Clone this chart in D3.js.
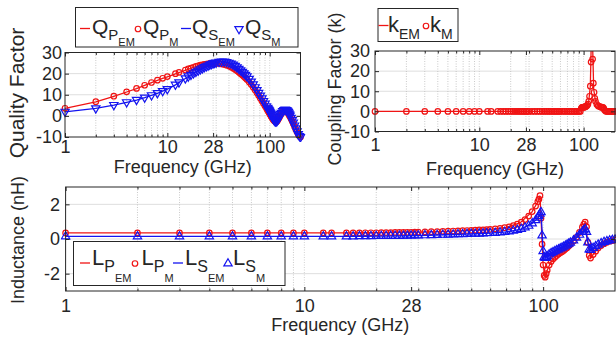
<!DOCTYPE html>
<html>
<head>
<meta charset="utf-8">
<script src="https://cdn.jsdelivr.net/npm/d3@7"></script>
<style>
body { margin: 0; background: #fff; }
svg text { font-family: "Liberation Sans", Arial, Helvetica, sans-serif; fill: #262626; }
</style>
</head>
<body>
<svg id="chart" width="616" height="337"></svg>
<script>
// x ticks shared by all three panels
var majorTicks = [1, 10, 28, 100];
var minorTicks = [2, 3, 4, 5, 6, 7, 8, 9, 20, 30, 40, 50, 60, 70, 80, 90];

// simulated (M) sweep frequencies, GHz
var fM = [1, 2, 3, 4, 5, 6, 7, 8, 9, 10, 12, 13,
  15, 16, 17, 18, 19, 20, 21, 22, 23, 24, 25, 26, 27, 28, 29, 30,
  32, 34, 36, 38, 40, 42, 44, 46, 48, 50, 52, 54, 56, 58, 60,
  63, 66, 69, 72, 75, 78, 81, 84, 87, 90, 93,
  95, 96, 97, 98, 99, 100, 101, 102, 103, 104, 106, 108, 110,
  112, 114, 116, 118, 120, 122, 124, 126, 128, 130,
  134, 138, 142, 146, 148, 150, 152, 154, 156, 158, 162, 166, 170, 175, 180, 185, 190, 195, 200];

// EM line frequencies, GHz
var fEM = [1, 2, 3, 4, 5, 6, 7, 8, 9, 10, 12, 13,
  15, 18, 21, 25, 30, 36, 42, 50, 60, 70, 80, 90,
  95, 97, 98, 100, 102, 104, 108, 112, 116, 120, 125, 130,
  138, 146, 150, 154, 158, 166, 175, 185, 200];

// quality factor
var qPM = [3.6, 6.7, 9.3, 11.4, 13.0, 14.5, 15.8, 16.9, 17.8, 18.6, 20.0, 20.6,
  21.7, 22.2, 22.6, 23.0, 23.4, 23.7, 24.0, 24.2, 24.4, 24.5, 24.6, 24.7, 24.8, 24.9, 24.9, 24.9,
  24.8, 24.6, 24.3, 24.0, 23.6, 23.1, 22.6, 22.0, 21.4, 20.7, 20.0, 19.3, 18.6, 17.9, 17.2,
  16.0, 14.8, 13.5, 12.2, 10.9, 9.6, 8.3, 7.1, 5.9, 4.7, 3.6,
  2.9, 2.5, 2.2, 1.8, 1.5, 1.1, 0.8, 0.4, 0.0, -0.4, -1.1, -1.7, -2.2,
  -2.6, -2.8, -2.8, -2.5, -2.0, -1.4, -0.8, -0.1, 0.5, 1.1,
  1.9, 2.4, 2.5, 2.2, 1.9, 1.6, 1.2, 0.7, 0.2, -0.4, -1.5, -2.6, -3.7, -5.1, -6.4, -7.6, -8.8, -9.5, -10.0];
var qSM = [2.0, 3.6, 5.2, 6.5, 7.6, 8.7, 9.8, 10.8, 11.8, 12.7, 14.8, 15.9,
  17.8, 18.7, 19.5, 20.2, 20.9, 21.5, 22.1, 22.6, 23.1, 23.5, 23.9, 24.3, 24.6, 24.9, 25.1, 25.3,
  25.6, 25.7, 25.7, 25.5, 25.2, 24.8, 24.3, 23.7, 23.0, 22.3, 21.6, 20.9, 20.2, 19.5, 18.8,
  17.6, 16.3, 15.0, 13.6, 12.2, 10.9, 9.6, 8.3, 7.0, 5.8, 4.6,
  3.9, 3.5, 3.1, 2.8, 2.4, 2.0, 1.6, 1.2, 0.8, 0.4, -0.4, -1.2, -1.8,
  -2.3, -2.6, -2.6, -2.3, -1.8, -1.2, -0.5, 0.2, 0.9, 1.5,
  2.3, 2.8, 3.0, 2.8, 2.5, 2.2, 1.8, 1.3, 0.8, 0.2, -0.9, -2.0, -3.1, -4.5, -5.9, -7.3, -8.6, -9.5, -10.0];
var qPEM = [3.5, 6.6, 9.2, 11.3, 12.9, 14.4, 15.7, 16.8, 17.7, 18.5, 19.9, 20.5,
  21.6, 23.0, 24.0, 24.6, 24.9, 24.3, 23.1, 20.7, 17.2, 13.1, 8.7, 4.7,
  2.9, 2.2, 1.8, 1.1, 0.4, -0.4, -1.7, -2.6, -2.8, -2.0, -0.45, 1.1,
  2.4, 2.2, 1.6, 0.7, -0.4, -2.6, -5.1, -7.6, -10.0];
var qSEM = [1.9, 3.5, 5.1, 6.4, 7.5, 8.6, 9.7, 10.7, 11.7, 12.6, 14.7, 15.8,
  17.7, 20.2, 22.1, 23.9, 25.3, 25.7, 24.8, 22.3, 18.8, 14.5, 10.0, 5.8,
  3.9, 3.1, 2.8, 2.0, 1.2, 0.4, -1.2, -2.3, -2.6, -1.8, -0.2, 1.5,
  2.8, 2.8, 2.2, 1.3, 0.2, -2.0, -4.5, -7.3, -10.0];

// coupling factor
var kM = [0, 0, 0, 0, 0, 0, 0, 0, 0, 0, 0, 0,
  0, 0, 0, 0, 0, 0, 0, 0, 0, 0, 0, 0, 0, 0, 0, 0,
  0, 0, 0, 0, 0, 0, 0, 0, 0, 0, 0, 0, 0, 0, 0,
  0, 0, 0, 0, 0, 0, 0, 0, 0, 0, 0,
  1.5, 1.8, 2.0, 2.0, 2.0, 2.1, 2.1, 2.2, 2.2, 2.3, 2.5, 2.9, 3.6,
  5.0, 7.5, 12.5, 24.5, 48.0, 26.0, 14.0, 9.5, 6.5, 5.0,
  3.4, 2.7, 2.4, 2.2, 2.1, 2.0, 2.0, 1.9, 1.5, 0.8, 0.2, 0, 0, 0, 0, 0, 0, 0, 0];
var kEM = [0, 0, 0, 0, 0, 0, 0, 0, 0, 0, 0, 0,
  0, 0, 0, 0, 0, 0, 0, 0, 0, 0, 0, 0,
  1.5, 2.0, 2.0, 2.1, 2.2, 2.3, 2.9, 5.0, 12.5, 48.0, 11.0, 5.0,
  2.7, 2.2, 2.0, 1.9, 0.8, 0, 0, 0, 0];

// inductance, nH
var lPM = [0.35, 0.35, 0.35, 0.35, 0.35, 0.35, 0.35, 0.35, 0.35, 0.35, 0.35, 0.35,
  0.35, 0.35, 0.35, 0.36, 0.36, 0.36, 0.37, 0.37, 0.37, 0.38, 0.38, 0.38, 0.39, 0.39, 0.40, 0.40,
  0.41, 0.42, 0.43, 0.44, 0.45, 0.46, 0.47, 0.48, 0.49, 0.50, 0.51, 0.52, 0.53, 0.545, 0.56,
  0.58, 0.61, 0.65, 0.70, 0.77, 0.86, 0.97, 1.12, 1.32, 1.58, 1.90,
  2.15, 2.3, 2.5, 1.2, -0.3, -1.5, -2.1, -2.2, -2.0, -1.8, -1.5, -1.3, -1.15,
  -1.05, -0.95, -0.87, -0.8, -0.73, -0.66, -0.58, -0.5, -0.41, -0.32,
  -0.12, 0.1, 0.38, 0.68, 0.85, 0.97, 0.7, -0.2, -0.95, -1.1, -0.9, -0.7, -0.52, -0.38, -0.27, -0.19, -0.13, -0.09, -0.06];
var lSM = [0.15, 0.15, 0.15, 0.15, 0.15, 0.15, 0.15, 0.15, 0.15, 0.15, 0.15, 0.15,
  0.15, 0.15, 0.16, 0.16, 0.16, 0.17, 0.17, 0.17, 0.18, 0.18, 0.18, 0.19, 0.19, 0.2, 0.2, 0.2,
  0.21, 0.22, 0.23, 0.24, 0.25, 0.26, 0.27, 0.28, 0.29, 0.3, 0.3, 0.31, 0.32, 0.33, 0.34,
  0.35, 0.37, 0.4, 0.43, 0.47, 0.52, 0.58, 0.66, 0.76, 0.9, 1.08,
  1.22, 1.32, 1.45, 1.55, 0.2, -0.7, -1.05, -1.1, -1.05, -1.0, -0.9, -0.82, -0.76,
  -0.7, -0.65, -0.6, -0.55, -0.5, -0.45, -0.39, -0.33, -0.27, -0.21,
  -0.08, 0.07, 0.24, 0.42, 0.5, 0.57, 0.4, -0.2, -0.6, -0.64, -0.52, -0.42, -0.33, -0.25, -0.18, -0.13, -0.09, -0.06, -0.04];
var lPEM = [0.35, 0.35, 0.35, 0.35, 0.35, 0.35, 0.35, 0.35, 0.35, 0.35, 0.35, 0.35,
  0.35, 0.36, 0.37, 0.38, 0.40, 0.43, 0.46, 0.50, 0.56, 0.67, 0.93, 1.58,
  2.15, 2.5, 1.2, -1.5, -2.2, -1.8, -1.3, -1.05, -0.87, -0.73, -0.54, -0.32,
  0.1, 0.68, 0.97, -0.2, -1.1, -0.7, -0.38, -0.19, -0.06];
var lSEM = [0.15, 0.15, 0.15, 0.15, 0.15, 0.15, 0.15, 0.15, 0.15, 0.15, 0.15, 0.15,
  0.15, 0.16, 0.17, 0.18, 0.2, 0.23, 0.26, 0.29, 0.34, 0.41, 0.55, 0.9,
  1.22, 1.45, 1.55, -0.7, -1.1, -1.0, -0.82, -0.7, -0.6, -0.5, -0.36, -0.21,
  0.07, 0.42, 0.57, -0.2, -0.64, -0.42, -0.25, -0.13, -0.04];

var RED = "#f01414", BLUE = "#1414f0", INK = "#262626";
var svg = d3.select("#chart");

function zip(fs, vs) {
  return fs.map(function(f, i) { return { f: f, v: vs[i] }; });
}

// plain hyphen minus like the original figure
function plain(d) { return String(d); }

function drawPanel(cfg) {
  var x = d3.scaleLog().domain([1, 200]).range([cfg.left, cfg.right]);
  var y = d3.scaleLinear().domain(cfg.yDomain).range([cfg.bottom, cfg.top]);
  var g = svg.append("g");

  // grid
  var grid = g.append("g");
  grid.selectAll(".gy").data(cfg.yTicks.filter(function(d) { return d > cfg.yDomain[0] && d < cfg.yDomain[1]; }))
    .enter().append("line")
    .attr("x1", cfg.left).attr("x2", cfg.right)
    .attr("y1", function(d) { return y(d); }).attr("y2", function(d) { return y(d); })
    .attr("stroke", "#dedede").attr("stroke-width", 1);
  grid.selectAll(".gm").data(minorTicks)
    .enter().append("line")
    .attr("x1", function(d) { return x(d); }).attr("x2", function(d) { return x(d); })
    .attr("y1", cfg.top).attr("y2", cfg.bottom)
    .attr("stroke", "#bdbdbd").attr("stroke-width", 0.8).attr("stroke-dasharray", "1,1.5");
  grid.selectAll(".gM").data(majorTicks.slice(1))
    .enter().append("line")
    .attr("x1", function(d) { return x(d); }).attr("x2", function(d) { return x(d); })
    .attr("y1", cfg.top).attr("y2", cfg.bottom)
    .attr("stroke", "#c8c8c8").attr("stroke-width", 0.8).attr("stroke-dasharray", "1,1.5");

  svg.append("clipPath").attr("id", "clip-" + cfg.name)
    .append("rect")
    .attr("x", cfg.left - 5).attr("y", cfg.top)
    .attr("width", cfg.right - cfg.left + 10).attr("height", cfg.bottom - cfg.top + 5);
  var plot = g.append("g").attr("clip-path", "url(#clip-" + cfg.name + ")");

  return { x: x, y: y, g: g, plot: plot, cfg: cfg };
}

function finishPanel(p) {
  var cfg = p.cfg, g = p.g;
  function clean(sel) {
    sel.select(".domain").remove();
    sel.attr("font-size", 18).attr("font-family", null);
    sel.selectAll("line").attr("stroke", INK);
    sel.selectAll("text").attr("fill", INK);
  }

  g.append("g").attr("transform", "translate(0," + cfg.bottom + ")")
    .call(d3.axisBottom(p.x).tickValues(majorTicks).tickFormat(plain)
      .tickSizeInner(-4).tickSizeOuter(0).tickPadding(cfg.xPad))
    .call(clean);
  g.append("g").attr("transform", "translate(0," + cfg.bottom + ")")
    .call(d3.axisBottom(p.x).tickValues(minorTicks).tickFormat("").tickSizeInner(-2.5).tickSizeOuter(0))
    .call(clean);
  g.append("g").attr("transform", "translate(0," + cfg.top + ")")
    .call(d3.axisTop(p.x).tickValues(majorTicks).tickFormat("").tickSizeInner(-4).tickSizeOuter(0))
    .call(clean);
  g.append("g").attr("transform", "translate(0," + cfg.top + ")")
    .call(d3.axisTop(p.x).tickValues(minorTicks).tickFormat("").tickSizeInner(-2.5).tickSizeOuter(0))
    .call(clean);
  g.append("g").attr("transform", "translate(" + cfg.left + ",0)")
    .call(d3.axisLeft(p.y).tickValues(cfg.yTicks).tickFormat(plain)
      .tickSizeInner(-4).tickSizeOuter(0).tickPadding(cfg.yPad))
    .call(clean);
  g.append("g").attr("transform", "translate(" + cfg.right + ",0)")
    .call(d3.axisRight(p.y).tickValues(cfg.yTicks).tickFormat("").tickSizeInner(-4).tickSizeOuter(0))
    .call(clean);

  g.append("rect")
    .attr("x", cfg.left).attr("y", cfg.top)
    .attr("width", cfg.right - cfg.left).attr("height", cfg.bottom - cfg.top)
    .attr("fill", "none").attr("stroke", INK).attr("stroke-width", 1);

  g.append("text")
    .attr("x", (cfg.left + cfg.right) / 2).attr("y", cfg.xLabelY)
    .attr("text-anchor", "middle").attr("font-size", 18)
    .text("Frequency (GHz)");
  g.append("text")
    .attr("transform", "translate(" + cfg.yLabelX + "," + cfg.yLabelMid + ") rotate(-90)")
    .attr("text-anchor", "middle").attr("font-size", cfg.yLabelSize)
    .text(cfg.yLabel);
}

function addLine(p, fs, vs, color) {
  var line = d3.line()
    .x(function(d) { return p.x(d.f); })
    .y(function(d) { return p.y(d.v); });
  p.plot.append("path")
    .datum(zip(fs, vs))
    .attr("d", line)
    .attr("fill", "none").attr("stroke", color).attr("stroke-width", 1.3);
}

function symbolPath(shape) {
  if (shape === "circle") return d3.symbol().type(d3.symbolCircle).size(24)();
  return d3.symbol().type(d3.symbolTriangle).size(30)();
}

function addMarkers(p, fs, vs, color, shape) {
  p.plot.append("g").selectAll("path")
    .data(zip(fs, vs))
    .enter().append("path")
    .attr("d", symbolPath(shape))
    .attr("transform", function(d) {
      return "translate(" + p.x(d.f) + "," + p.y(d.v) + ")" + (shape === "down" ? " rotate(180)" : "");
    })
    .attr("fill", "none").attr("stroke", color).attr("stroke-width", 1.2);
}

function drawLegend(lg) {
  var g = svg.append("g");
  g.append("rect")
    .attr("x", lg.x).attr("y", lg.y).attr("width", lg.w).attr("height", lg.h)
    .attr("fill", "#fff").attr("stroke", INK).attr("stroke-width", 1);
  lg.items.forEach(function(it, i) {
    var sx = lg.sx[i], tx = lg.tx[i];
    if (it.shape === "line") {
      g.append("line").attr("x1", sx - 5).attr("x2", sx + 5)
        .attr("y1", lg.symY).attr("y2", lg.symY)
        .attr("stroke", it.color).attr("stroke-width", 1.3);
    } else {
      g.append("path").attr("d", symbolPath(it.shape))
        .attr("transform", "translate(" + sx + "," + (lg.symY + 0.5) + ")" + (it.shape === "down" ? " rotate(180)" : ""))
        .attr("fill", "none").attr("stroke", it.color).attr("stroke-width", 1.2);
    }
    var t1 = g.append("text").attr("x", tx).attr("y", lg.base).attr("font-size", lg.mainSize).text(it.main);
    var x2 = tx + t1.node().getComputedTextLength();
    var t2 = g.append("text").attr("x", x2).attr("y", lg.subBase).attr("font-size", lg.subSize).text(it.sub);
    if (it.subsub) {
      var x3 = x2 + t2.node().getComputedTextLength();
      g.append("text").attr("x", x3).attr("y", lg.subsubBase).attr("font-size", lg.subsubSize).text(it.subsub);
    }
  });
}

// ---- Quality factor ----
var pQ = drawPanel({
  name: "q", left: 65, right: 300.5, top: 52.5, bottom: 137,
  yDomain: [-10, 30], yTicks: [-10, 0, 10, 20, 30], xPad: 3, yPad: 3,
  xLabelY: 172.5, yLabel: "Quality Factor", yLabelX: 24, yLabelMid: 93, yLabelSize: 21
});
addLine(pQ, fEM, qPEM, RED);
addMarkers(pQ, fM, qPM, RED, "circle");
addLine(pQ, fEM, qSEM, BLUE);
addMarkers(pQ, fM, qSM, BLUE, "down");
finishPanel(pQ);

// ---- Coupling factor ----
var pK = drawPanel({
  name: "k", left: 375, right: 615, top: 51, bottom: 131.5,
  yDomain: [-10, 30], yTicks: [-10, 0, 10, 20, 30], xPad: 6.5, yPad: 5,
  xLabelY: 174.5, yLabel: "Coupling Factor (k)", yLabelX: 341, yLabelMid: 89, yLabelSize: 18
});
addLine(pK, fEM, kEM, RED);
addMarkers(pK, fM, kM, RED, "circle");
finishPanel(pK);

// ---- Inductance ----
var pL = drawPanel({
  name: "l", left: 65.6, right: 615, top: 187, bottom: 291,
  yDomain: [-3, 3], yTicks: [-2, 0, 2], xPad: 8, yPad: 5.5,
  xLabelY: 330.5, yLabel: "Inductance (nH)", yLabelX: 24, yLabelMid: 240, yLabelSize: 18
});
addLine(pL, fEM, lPEM, RED);
addMarkers(pL, fM, lPM, RED, "circle");
addLine(pL, fEM, lSEM, BLUE);
addMarkers(pL, fM, lSM, BLUE, "up");
finishPanel(pL);

// ---- legends ----
drawLegend({
  x: 75.5, y: 7.5, w: 222.5, h: 39.5, symY: 28.5,
  base: 33.5, subBase: 39.5, subsubBase: 45.5, mainSize: 21, subSize: 15, subsubSize: 11,
  sx: [85, 138, 186, 239], tx: [92, 143, 192, 245],
  items: [
    { shape: "line", color: RED, main: "Q", sub: "P", subsub: "EM" },
    { shape: "circle", color: RED, main: "Q", sub: "P", subsub: "M" },
    { shape: "line", color: BLUE, main: "Q", sub: "S", subsub: "EM" },
    { shape: "down", color: BLUE, main: "Q", sub: "S", subsub: "M" }
  ]
});
drawLegend({
  x: 378, y: 8.5, w: 80, h: 33, symY: 25.5,
  base: 31.5, subBase: 38.5, mainSize: 22, subSize: 14,
  sx: [383.5, 426], tx: [388, 430],
  items: [
    { shape: "line", color: RED, main: "k", sub: "EM" },
    { shape: "circle", color: RED, main: "k", sub: "M" }
  ]
});
drawLegend({
  x: 73.5, y: 241.5, w: 211.5, h: 44, symY: 263,
  base: 265, subBase: 271.5, subsubBase: 281.5, mainSize: 22, subSize: 16, subsubSize: 11,
  sx: [85, 135, 178, 228], tx: [92, 141.5, 185, 233],
  items: [
    { shape: "line", color: RED, main: "L", sub: "P", subsub: "EM" },
    { shape: "circle", color: RED, main: "L", sub: "P", subsub: "M" },
    { shape: "line", color: BLUE, main: "L", sub: "S", subsub: "EM" },
    { shape: "up", color: BLUE, main: "L", sub: "S", subsub: "M" }
  ]
});
</script>
</body>
</html>
